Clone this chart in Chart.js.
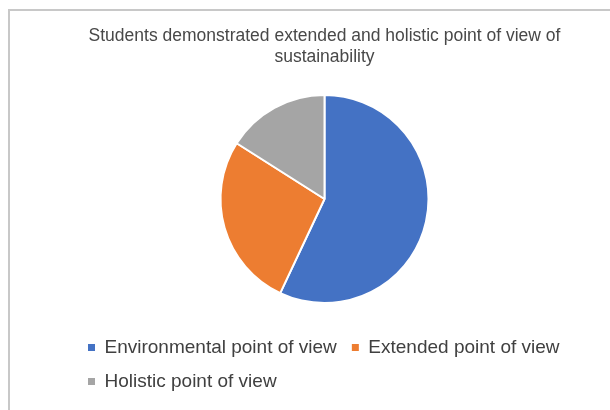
<!DOCTYPE html>
<html>
<head>
<meta charset="utf-8">
<script src="https://cdn.jsdelivr.net/npm/chart.js@4.4.1/dist/chart.umd.min.js"></script>
<style>
  html, body { margin: 0; padding: 0; background: #fff; overflow: hidden; }
  #frame {
    position: absolute; left: 8px; top: 9px;
    width: 700px; height: 500px;
    border-left: 2px solid #c8c8c8; border-top: 2px solid #c8c8c8;
  }
  #frame canvas { position: absolute; left: 0; top: 0; }
</style>
</head>
<body>
<div id="frame">
  <canvas id="chart" width="600" height="399"></canvas>
</div>
<script>
// chart data
const titleLines = ['Students demonstrated extended and holistic point of view of', 'sustainability'];
const categories = ['Environmental point of view', 'Extended point of view', 'Holistic point of view'];
const shares = [57, 27, 16];
const sliceColors = ['#4472C4', '#ED7D31', '#A5A5A5'];

const ctx = document.getElementById('chart').getContext('2d');

new Chart(ctx, {
  type: 'pie',
  data: {
    labels: categories,
    datasets: [{
      data: shares,
      backgroundColor: sliceColors,
      borderColor: '#ffffff',
      borderWidth: 2,
      radius: 104
    }]
  },
  options: {
    responsive: false,
    animation: false,
    layout: {
      padding: { left: 63, right: 34, top: 0, bottom: 9 }
    },
    plugins: {
      title: {
        display: true,
        text: titleLines,
        color: '#484848',
        font: { family: '"Liberation Sans", Arial, sans-serif', size: 17.5, weight: 'normal', lineHeight: 1.2 },
        padding: { top: 15, bottom: 7 }
      },
      legend: {
        position: 'bottom',
        align: 'start',
        labels: {
          color: '#404040',
          font: { family: '"Liberation Sans", Arial, sans-serif', size: 19 },
          boxWidth: 7,
          boxHeight: 7,
          padding: 15,
          generateLabels: (chart) => {
            // plain squares, no white outline
            const items = Chart.overrides.pie.plugins.legend.labels.generateLabels(chart);
            return items.map(item => ({ ...item, lineWidth: 0 }));
          }
        }
      },
      tooltip: { enabled: false }
    }
  }
});
</script>
</body>
</html>
